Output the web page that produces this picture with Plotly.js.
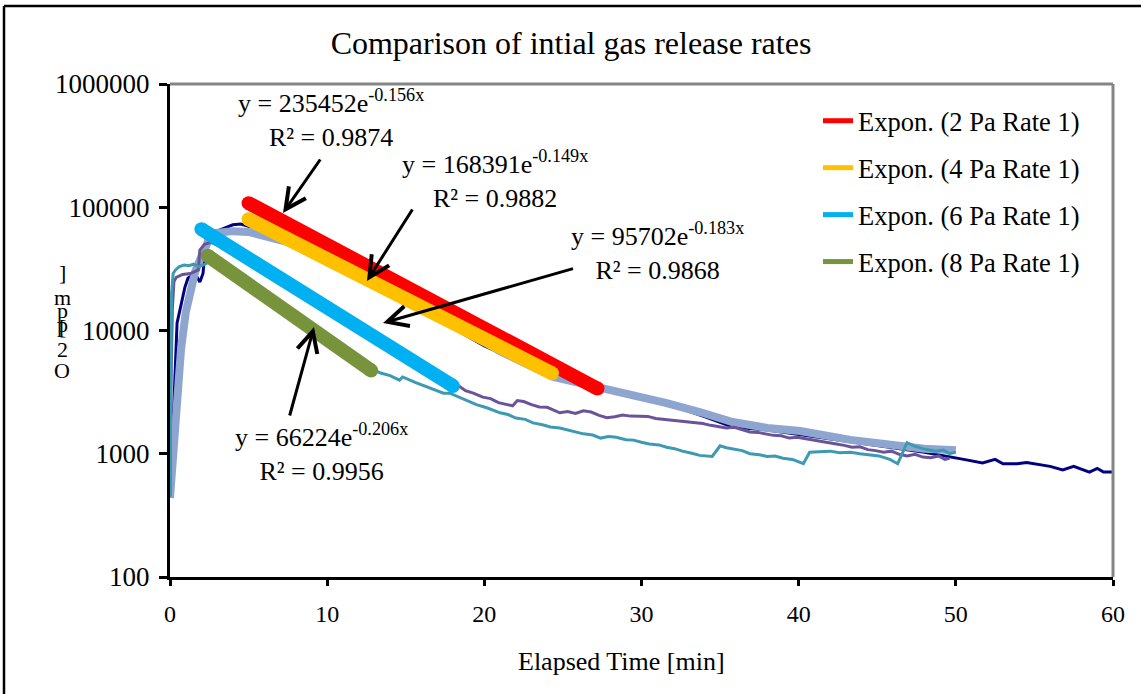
<!DOCTYPE html>
<html><head><meta charset="utf-8">
<script src="https://cdn.plot.ly/plotly-3.0.1.min.js"></script>
<style>html,body{margin:0;padding:0;background:#fff}#chart{width:1141px;height:694px}</style>
</head><body><div id="chart"></div>
<script>
// ---- data ----
const navyX = [0,0.19,0.45,0.95,1.15,1.6,1.9,2.1,2.3,3.0,4.0,4.5,5.0,6,8,10,12,14,16,18,20,22,24,26,27.5,29.1,30.5,32,34,35.8,38,40,42,44,46,48,49.6,50.5,51.7,52.5,53,53.9,54.5,55.2,56,56.8,57.5,58.5,59,59.4,60];
const navyY = [1000,1650,11500,22500,26700,29000,24700,29000,55000,64000,72000,73000,70000,66000,52000,40000,30000,21000,15000,10500,7500,5800,4500,3700,3350,3170,2800,2450,2000,1650,1560,1440,1330,1220,1120,1030,950,900,841,900,830,830,850,820,790,740,790,710,760,710,710];

const lbX = [0,0.15,0.4,0.7,1.0,1.3,1.6,2.0,2.4,3.0,4.0,5.0,6.5,8.3,10,12.5,15,18,21,24.4,26,27.4,29.5,31.6,33.7,35.8,38,40.1,43.3,46.4,48,50];
const lbY = [437,800,2500,7000,14000,22000,30000,40000,52000,62000,64000,63000,57000,49000,42000,31000,20000,11500,6800,4200,3800,3410,3000,2580,2180,1810,1620,1530,1295,1156,1100,1070];

const purX = [0,0.05,0.15,0.25,0.4,0.8,1.3,1.6,1.8,1.9,2.2,2.6,4,6,8,10,12,14,16,18,18.3,18.8,19.3,19.9,20.4,20.9,21.4,21.8,22.1,22.5,23.0,23.5,24.0,24.5,24.8,25.3,25.8,26.3,26.8,27.3,27.8,28.3,28.8,29.3,29.9,30.4,30.9,31.4,31.9,32.4,32.9,33.4,33.9,34.4,34.9,35.4,35.9,36.4,36.9,37.4,37.9,38.4,38.9,39.4,39.9,40.4,40.9,41.4,41.9,42.4,42.9,43.4,43.9,44.4,44.9,45.4,45.9,46.4,46.9,47.4,47.9,48.4,48.9,49.3,49.6];
const purY = [450,3000,15000,25000,27000,28500,29000,30000,31000,45000,50000,52000,44000,30000,21000,15000,10000,7000,5000,3700,3610,3250,3100,2880,2800,2600,2520,2450,2700,2650,2500,2400,2380,2250,2150,2200,2120,2230,2180,2050,1960,2000,2060,2020,2000,2010,1930,1900,1880,1850,1800,1790,1760,1700,1660,1620,1640,1560,1500,1490,1440,1410,1400,1340,1360,1330,1300,1260,1240,1200,1170,1130,1140,1080,1060,1030,1050,990,960,990,940,930,960,900,920];

const tealX = [0,0.05,0.1,0.2,0.35,0.6,0.9,1.2,1.5,1.8,2.1,2.5,4,6,8,10,12,12.8,13.4,14.0,14.6,14.8,15.6,16.5,17.4,17.8,18.6,19.5,20.2,21,21.5,22,22.6,23.1,23.7,24.2,24.8,25.3,25.8,26.3,26.9,27.4,27.9,28.4,29.0,29.5,30.0,30.5,31.1,31.6,32.1,32.6,33.2,33.7,34.5,35,35.4,35.8,36.4,36.9,37.5,38,38.5,39,39.6,40.3,40.7,41.3,42,42.6,43.3,43.9,44.5,45.1,45.8,46.3,46.9,47.4,47.9,48.3,48.7,49.2,49.6,50];
const tealY = [450,5000,20000,29000,31000,33000,34000,33500,34500,33000,34000,36000,30000,20000,13500,9000,5900,4900,4520,4300,3960,4200,3800,3450,3100,3100,2800,2500,2350,2150,2080,1950,1900,1780,1720,1650,1620,1560,1500,1450,1420,1340,1380,1360,1300,1290,1240,1200,1180,1130,1100,1050,1010,970,950,1160,1120,1100,1060,1000,980,950,960,920,900,830,1030,1040,1050,1020,1030,1000,980,960,900,830,1230,1150,1100,1080,1050,1070,1000,1030];

// exponential trend lines (straight on the log axis): start/end
const fitNames = ['Expon. (2 Pa Rate 1)','Expon. (4 Pa Rate 1)','Expon. (6 Pa Rate 1)','Expon. (8 Pa Rate 1)'];
const fitX = [[5,27.2],[5,24.3],[2,18],[2.4,12.8]];
const fitY = [[108000,3380],[80000,4500],[66400,3550],[40400,4740]];
const fitColors = ['#FF0000','#FFC000','#00B0F0','#77933C'];

const eqTexts = ['y = 235452e<sup>-0.156x</sup><br>R² = 0.9874',
                 'y = 168391e<sup>-0.149x</sup><br>R² = 0.9882',
                 'y = 95702e<sup>-0.183x</sup><br>R² = 0.9868',
                 'y = 66224e<sup>-0.206x</sup><br>R² = 0.9956'];

const yTickVals = [100,1000,10000,100000,1000000];
const yTickText = ['100','1000','10000','100000','1000000'];
const xTickVals = [0,10,20,30,40,50,60];

// ---- figure ----
const F = '"Liberation Serif", "Times New Roman", serif';
const W = 1141, H = 694, L = 170, R = 28, T = 84, B = 117;
const pw = W - L - R, ph = H - T - B;
const px = v => (v - L) / pw;          // pixel -> paper x
const py = v => (H - B - v) / ph;      // pixel -> paper y

const traces = [
  {x: navyX, y: navyY, mode:'lines', line:{color:'#000080', width:3}, showlegend:false, hoverinfo:'skip'},
  {x: lbX, y: lbY, mode:'lines', line:{color:'#8EA6CF', width:8}, showlegend:false, hoverinfo:'skip'},
  {x: purX, y: purY, mode:'lines', line:{color:'#6A5499', width:3}, showlegend:false, hoverinfo:'skip'},
  {x: tealX, y: tealY, mode:'lines', line:{color:'#3C9AB2', width:3}, showlegend:false, hoverinfo:'skip'}
];
fitNames.forEach((n,i) => {
  traces.push({x: fitX[i], y: fitY[i], name: n, mode:'lines',
    line:{color:fitColors[i], width:14}, legendgroup:'g'+i});
  traces.push({x: fitX[i], y: fitY[i], mode:'markers', marker:{color:fitColors[i], size:14},
    showlegend:false, legendgroup:'g'+i, hoverinfo:'skip'});
});

const annotations = [];
// equation labels
const eqPos = [[331,118],[495,179],[657,251],[321,452]];
eqTexts.forEach((t,i) => annotations.push({
  xref:'paper', yref:'paper', x:px(eqPos[i][0]), y:py(eqPos[i][1]),
  text:t, showarrow:false, align:'center', xanchor:'center', yanchor:'middle',
  font:{family:F, size:26, color:'#000'}
}));
// arrows (tail -> head, in pixels)
const arrows = [[[322,157],[283,213]],[[414,207],[367,281]],[[575,268],[383,323]],[[289,418],[314,327]]];
arrows.forEach(a => annotations.push({
  xref:'paper', yref:'paper', axref:'pixel', ayref:'pixel',
  x:px(a[1][0]), y:py(a[1][1]), ax:a[0][0]-a[1][0], ay:a[0][1]-a[1][1],
  text:' ', showarrow:true, arrowhead:5, arrowsize:1.35, arrowwidth:3, arrowcolor:'#000',
  standoff:0, startstandoff:0, font:{size:2}
}));
// stacked y-axis label ("O2 [ppm]" drawn bottom-up, characters overlapping as in the original)
const yLab = [[']',272],['m',297],['p',310],['p',324],['[',326],['2',349],['O',370]];
yLab.forEach(c => annotations.push({
  xref:'paper', yref:'paper', x:px(62), y:py(c[1]), text:c[0], showarrow:false,
  xanchor:'center', yanchor:'middle', font:{family:F, size:22, color:'#000'}
}));
// x-axis title (placed as in the original, left of the plot centre)
annotations.push({xref:'paper', yref:'paper', x:px(621), y:py(661), text:'Elapsed Time [min]',
  showarrow:false, xanchor:'center', yanchor:'middle', font:{family:F, size:26, color:'#000'}});

const shapes = [
  // plot area top/right border (gray)
  {type:'line', xref:'paper', yref:'paper', x0:0, x1:1, y0:1, y1:1, line:{color:'#858585', width:3}},
  {type:'line', xref:'paper', yref:'paper', x0:1, x1:1, y0:0, y1:1, line:{color:'#858585', width:3}},
  // outer chart frame
  {type:'line', xref:'paper', yref:'paper', x0:px(4), x1:px(1141), y0:py(6), y1:py(6), line:{color:'#000', width:2.5}},
  {type:'line', xref:'paper', yref:'paper', x0:px(4), x1:px(4), y0:py(6), y1:py(694), line:{color:'#000', width:2.5}}
];

const layout = {
  width: W, height: H,
  margin: {l:L, r:R, t:T, b:B},
  paper_bgcolor:'#fff', plot_bgcolor:'#fff',
  font: {family:F, color:'#000'},
  title: {text:'Comparison of intial gas release rates', font:{family:F, size:32, color:'#000'},
          x: 571/W, xanchor:'center', xref:'container', y: 1-43/H, yanchor:'middle', yref:'container'},
  xaxis: {range:[0,60], tickvals:xTickVals, ticks:'outside', ticklen:6, tickwidth:3, tickcolor:'#000',
          showline:true, linecolor:'#000', linewidth:3, showgrid:false, zeroline:false,
          tickfont:{family:F, size:24, color:'#000'}, ticklabelstandoff:7},
  yaxis: {type:'log', range:[2,6], tickvals:yTickVals, ticktext:yTickText, ticks:'outside', ticklen:8, tickwidth:3,
          tickcolor:'#000', showline:true, linecolor:'#000', linewidth:3, showgrid:false, zeroline:false,
          tickfont:{family:F, size:27, color:'#000'}, ticklabelstandoff:4},
  legend: {x:px(818), y:py(97), xanchor:'left', yanchor:'top', bgcolor:'rgba(0,0,0,0)',
           font:{family:F, size:26.5, color:'#000'}, tracegroupgap:9.5, itemsizing:'constant'},
  annotations, shapes
};

Plotly.newPlot('chart', traces, layout, {displayModeBar:false, staticPlot:true});
</script>
</body></html>
